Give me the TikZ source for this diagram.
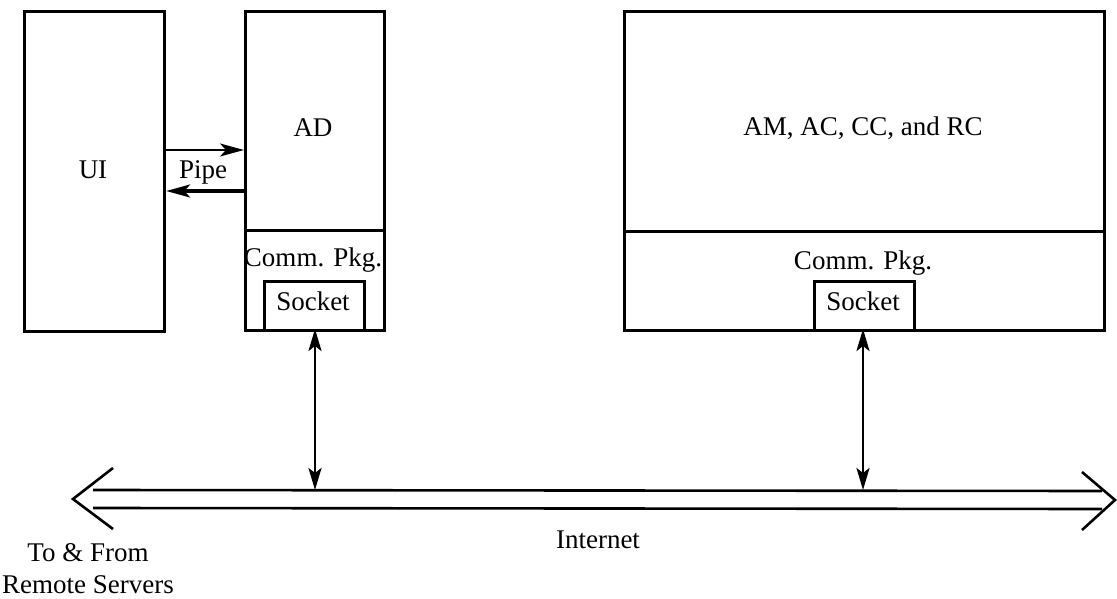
\documentclass[tikz,border=0pt]{standalone}
\usepackage{fontspec}
\setmainfont{Liberation Serif}
\usetikzlibrary{arrows.meta}
\begin{document}
\begin{tikzpicture}[x=1pt,y=-1pt,
  box/.style={draw,line width=3.2pt,minimum width=#1,inner sep=0pt,anchor=north west},
  lbl/.style={font=\fontsize{27}{32}\selectfont,inner sep=0pt},
  vlink/.style={line width=2.6pt,{Stealth[length=22pt,width=13pt,inset=5pt]}-{Stealth[length=22pt,width=13pt,inset=5pt]}},
  net/.style={line width=2.6pt},
  tip/.style={line width=2.6pt,line join=miter}]
\useasboundingbox (0,0) rectangle (1117,599);
% boxes
\node[box=140pt,minimum height=320pt] (UI) at (23,10) {};
\node[box=139pt,minimum height=219pt] (ADtop) at (244,10) {};
\node[box=139pt,minimum height=100pt] (ADcomm) at (244,229) {};
\node[box=100pt,minimum height=49pt] (ADsock) at (263,280) {};
\node[box=480pt,minimum height=220pt] (BGtop) at (623,10) {};
\node[box=480pt,minimum height=99pt] (BGcomm) at (623,230) {};
\node[box=100pt,minimum height=49pt] (BGsock) at (813,280) {};
% labels
\node[lbl] (tUI) at (93,170) {UI};
\node[lbl] (tAD) at (313,128) {AD};
\node[lbl] (tADc) at (313,260) {Comm. Pkg.};
\node[lbl] (tADs) at (313,301) {Socket};
\node[lbl] (tBG) at (863,128) {AM, AC, CC, and RC};
\node[lbl] (tBGc) at (863,263) {Comm. Pkg.};
\node[lbl] (tBGs) at (863,301) {Socket};
\node[lbl] (tPipe) at (203,172) {Pipe};
\node[lbl] (tNet) at (598,540) {Internet};
\node[lbl,align=center] (tRem) at (88,569) {To \& From\\Remote Servers};
% pipe arrows
\coordinate (p1) at (0,150);
\coordinate (p2) at (0,191);
\draw[line width=2pt,-{Stealth[length=24pt,width=13pt,inset=6pt]}] (UI.east |- p1) -- (ADtop.west |- p1);
\draw[line width=3.2pt,-{Stealth[length=24pt,width=13pt,inset=6pt]}] (ADtop.west |- p2) -- (UI.east |- p2);
% internet double arrow
\coordinate (Ltip) at (73,499);
\coordinate (Rtip) at (1115,500);
\coordinate (L1) at (93,490);
\coordinate (L2) at (93,508);
\coordinate (R1) at (1102,491);
\coordinate (R2) at (1102,509);
\draw[net] (L1) -- (R1);
\draw[net] (L2) -- (R2);
\draw[tip] (113,468) -- (Ltip) -- (113,529);
\draw[tip] (1082,472) -- (Rtip) -- (1082,530);
% vertical links
\coordinate (a1) at (315,329);
\coordinate (a2) at (863,329);
\draw[vlink] (a1) -- (a1 |- L1);
\draw[vlink] (a2) -- (a2 |- L1);
\end{tikzpicture}
\end{document}
